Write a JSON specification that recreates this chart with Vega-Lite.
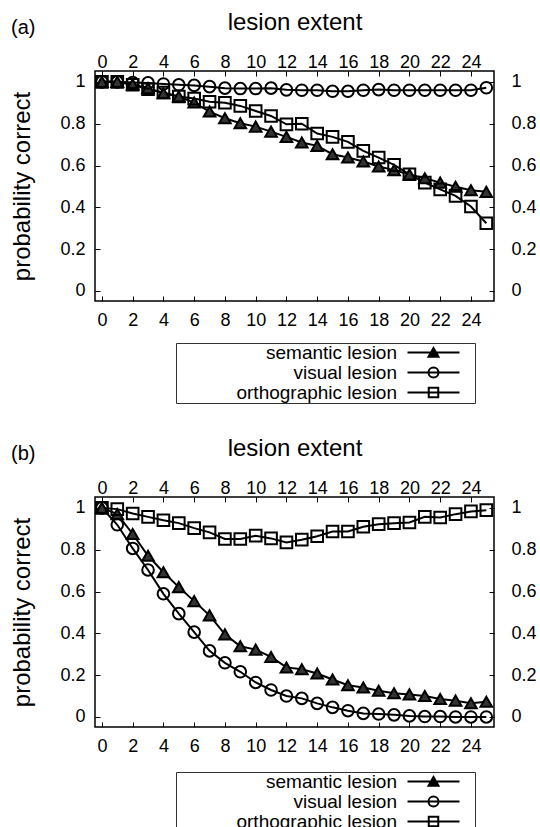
{
  "$schema": "https://vega.github.io/schema/vega-lite/v6.json",
  "padding": {"left": 10, "top": 9, "right": 0, "bottom": 0},
  "spacing": 30,
  "resolve": {"scale": {"shape": "independent", "fill": "independent"}, "legend": {"shape": "independent"}},
  "config": {
    "font": "Liberation Sans",
    "view": {"stroke": "#000", "strokeWidth": 1.5},
    "axis": {
      "labelFont": "Liberation Sans", "labelFontSize": 18, "labelColor": "#000",
      "titleFont": "Liberation Sans", "titleFontSize": 24, "titleFontWeight": "normal", "titleColor": "#000",
      "tickColor": "#000", "tickSize": -5, "tickWidth": 1, "domain": false, "grid": false
    },
    "legend": {
      "labelFont": "Liberation Sans", "labelFontSize": 19, "labelColor": "#000"
    }
  },
  "datasets": {
    "a": [
      {"x":0,"p":1.0,"series":"semantic lesion"},{"x":1,"p":1.0,"series":"semantic lesion"},{"x":2,"p":0.987,"series":"semantic lesion"},{"x":3,"p":0.97,"series":"semantic lesion"},{"x":4,"p":0.946,"series":"semantic lesion"},{"x":5,"p":0.93,"series":"semantic lesion"},{"x":6,"p":0.901,"series":"semantic lesion"},{"x":7,"p":0.858,"series":"semantic lesion"},{"x":8,"p":0.826,"series":"semantic lesion"},{"x":9,"p":0.802,"series":"semantic lesion"},{"x":10,"p":0.786,"series":"semantic lesion"},{"x":11,"p":0.762,"series":"semantic lesion"},{"x":12,"p":0.737,"series":"semantic lesion"},{"x":13,"p":0.71,"series":"semantic lesion"},{"x":14,"p":0.694,"series":"semantic lesion"},{"x":15,"p":0.654,"series":"semantic lesion"},{"x":16,"p":0.638,"series":"semantic lesion"},{"x":17,"p":0.619,"series":"semantic lesion"},{"x":18,"p":0.595,"series":"semantic lesion"},{"x":19,"p":0.578,"series":"semantic lesion"},{"x":20,"p":0.557,"series":"semantic lesion"},{"x":21,"p":0.539,"series":"semantic lesion"},{"x":22,"p":0.518,"series":"semantic lesion"},{"x":23,"p":0.498,"series":"semantic lesion"},{"x":24,"p":0.482,"series":"semantic lesion"},{"x":25,"p":0.474,"series":"semantic lesion"},
      {"x":0,"p":1.0,"series":"visual lesion"},{"x":1,"p":1.0,"series":"visual lesion"},{"x":2,"p":0.997,"series":"visual lesion"},{"x":3,"p":0.995,"series":"visual lesion"},{"x":4,"p":0.99,"series":"visual lesion"},{"x":5,"p":0.986,"series":"visual lesion"},{"x":6,"p":0.983,"series":"visual lesion"},{"x":7,"p":0.977,"series":"visual lesion"},{"x":8,"p":0.97,"series":"visual lesion"},{"x":9,"p":0.968,"series":"visual lesion"},{"x":10,"p":0.968,"series":"visual lesion"},{"x":11,"p":0.97,"series":"visual lesion"},{"x":12,"p":0.962,"series":"visual lesion"},{"x":13,"p":0.96,"series":"visual lesion"},{"x":14,"p":0.96,"series":"visual lesion"},{"x":15,"p":0.955,"series":"visual lesion"},{"x":16,"p":0.955,"series":"visual lesion"},{"x":17,"p":0.96,"series":"visual lesion"},{"x":18,"p":0.963,"series":"visual lesion"},{"x":19,"p":0.96,"series":"visual lesion"},{"x":20,"p":0.96,"series":"visual lesion"},{"x":21,"p":0.96,"series":"visual lesion"},{"x":22,"p":0.96,"series":"visual lesion"},{"x":23,"p":0.96,"series":"visual lesion"},{"x":24,"p":0.96,"series":"visual lesion"},{"x":25,"p":0.972,"series":"visual lesion"},
      {"x":0,"p":1.0,"series":"orthographic lesion"},{"x":1,"p":1.0,"series":"orthographic lesion"},{"x":2,"p":0.986,"series":"orthographic lesion"},{"x":3,"p":0.965,"series":"orthographic lesion"},{"x":4,"p":0.949,"series":"orthographic lesion"},{"x":5,"p":0.93,"series":"orthographic lesion"},{"x":6,"p":0.92,"series":"orthographic lesion"},{"x":7,"p":0.905,"series":"orthographic lesion"},{"x":8,"p":0.9,"series":"orthographic lesion"},{"x":9,"p":0.885,"series":"orthographic lesion"},{"x":10,"p":0.861,"series":"orthographic lesion"},{"x":11,"p":0.837,"series":"orthographic lesion"},{"x":12,"p":0.797,"series":"orthographic lesion"},{"x":13,"p":0.8,"series":"orthographic lesion"},{"x":14,"p":0.753,"series":"orthographic lesion"},{"x":15,"p":0.737,"series":"orthographic lesion"},{"x":16,"p":0.713,"series":"orthographic lesion"},{"x":17,"p":0.67,"series":"orthographic lesion"},{"x":18,"p":0.638,"series":"orthographic lesion"},{"x":19,"p":0.603,"series":"orthographic lesion"},{"x":20,"p":0.558,"series":"orthographic lesion"},{"x":21,"p":0.518,"series":"orthographic lesion"},{"x":22,"p":0.486,"series":"orthographic lesion"},{"x":23,"p":0.455,"series":"orthographic lesion"},{"x":24,"p":0.404,"series":"orthographic lesion"},{"x":25,"p":0.324,"series":"orthographic lesion"}
    ],
    "b": [
      {"x":0,"p":1.0,"series":"semantic lesion"},{"x":1,"p":0.97,"series":"semantic lesion"},{"x":2,"p":0.875,"series":"semantic lesion"},{"x":3,"p":0.771,"series":"semantic lesion"},{"x":4,"p":0.692,"series":"semantic lesion"},{"x":5,"p":0.621,"series":"semantic lesion"},{"x":6,"p":0.554,"series":"semantic lesion"},{"x":7,"p":0.486,"series":"semantic lesion"},{"x":8,"p":0.395,"series":"semantic lesion"},{"x":9,"p":0.338,"series":"semantic lesion"},{"x":10,"p":0.322,"series":"semantic lesion"},{"x":11,"p":0.287,"series":"semantic lesion"},{"x":12,"p":0.237,"series":"semantic lesion"},{"x":13,"p":0.228,"series":"semantic lesion"},{"x":14,"p":0.208,"series":"semantic lesion"},{"x":15,"p":0.179,"series":"semantic lesion"},{"x":16,"p":0.152,"series":"semantic lesion"},{"x":17,"p":0.141,"series":"semantic lesion"},{"x":18,"p":0.125,"series":"semantic lesion"},{"x":19,"p":0.113,"series":"semantic lesion"},{"x":20,"p":0.108,"series":"semantic lesion"},{"x":21,"p":0.1,"series":"semantic lesion"},{"x":22,"p":0.086,"series":"semantic lesion"},{"x":23,"p":0.078,"series":"semantic lesion"},{"x":24,"p":0.066,"series":"semantic lesion"},{"x":25,"p":0.073,"series":"semantic lesion"},
      {"x":0,"p":1.0,"series":"visual lesion"},{"x":1,"p":0.919,"series":"visual lesion"},{"x":2,"p":0.806,"series":"visual lesion"},{"x":3,"p":0.703,"series":"visual lesion"},{"x":4,"p":0.589,"series":"visual lesion"},{"x":5,"p":0.494,"series":"visual lesion"},{"x":6,"p":0.406,"series":"visual lesion"},{"x":7,"p":0.316,"series":"visual lesion"},{"x":8,"p":0.259,"series":"visual lesion"},{"x":9,"p":0.216,"series":"visual lesion"},{"x":10,"p":0.165,"series":"visual lesion"},{"x":11,"p":0.129,"series":"visual lesion"},{"x":12,"p":0.1,"series":"visual lesion"},{"x":13,"p":0.089,"series":"visual lesion"},{"x":14,"p":0.065,"series":"visual lesion"},{"x":15,"p":0.046,"series":"visual lesion"},{"x":16,"p":0.03,"series":"visual lesion"},{"x":17,"p":0.017,"series":"visual lesion"},{"x":18,"p":0.014,"series":"visual lesion"},{"x":19,"p":0.01,"series":"visual lesion"},{"x":20,"p":0.005,"series":"visual lesion"},{"x":21,"p":0.002,"series":"visual lesion"},{"x":22,"p":0.002,"series":"visual lesion"},{"x":23,"p":0.0,"series":"visual lesion"},{"x":24,"p":0.0,"series":"visual lesion"},{"x":25,"p":0.0,"series":"visual lesion"},
      {"x":0,"p":1.0,"series":"orthographic lesion"},{"x":1,"p":0.994,"series":"orthographic lesion"},{"x":2,"p":0.973,"series":"orthographic lesion"},{"x":3,"p":0.957,"series":"orthographic lesion"},{"x":4,"p":0.941,"series":"orthographic lesion"},{"x":5,"p":0.927,"series":"orthographic lesion"},{"x":6,"p":0.903,"series":"orthographic lesion"},{"x":7,"p":0.883,"series":"orthographic lesion"},{"x":8,"p":0.851,"series":"orthographic lesion"},{"x":9,"p":0.851,"series":"orthographic lesion"},{"x":10,"p":0.867,"series":"orthographic lesion"},{"x":11,"p":0.854,"series":"orthographic lesion"},{"x":12,"p":0.835,"series":"orthographic lesion"},{"x":13,"p":0.848,"series":"orthographic lesion"},{"x":14,"p":0.864,"series":"orthographic lesion"},{"x":15,"p":0.887,"series":"orthographic lesion"},{"x":16,"p":0.887,"series":"orthographic lesion"},{"x":17,"p":0.91,"series":"orthographic lesion"},{"x":18,"p":0.922,"series":"orthographic lesion"},{"x":19,"p":0.927,"series":"orthographic lesion"},{"x":20,"p":0.93,"series":"orthographic lesion"},{"x":21,"p":0.957,"series":"orthographic lesion"},{"x":22,"p":0.954,"series":"orthographic lesion"},{"x":23,"p":0.97,"series":"orthographic lesion"},{"x":24,"p":0.983,"series":"orthographic lesion"},{"x":25,"p":0.989,"series":"orthographic lesion"}
    ]
  },
  "vconcat": [
    {
      "title": {"text": "(a)", "anchor": "start", "frame": "bounds", "fontSize": 20, "fontWeight": "normal", "font": "Liberation Sans", "color": "#000", "offset": 0, "dy": 28},
      "width": 399, "height": 230,
      "data": {"name": "a"},
      "layer": [
        {
          "mark": {"type": "line", "stroke": "#000", "strokeWidth": 2},
          "encoding": {
            "x": {"field": "x", "type": "quantitative", "scale": {"domain": [-0.45, 25.5], "nice": false, "zero": false},
                  "axis": {"orient": "bottom", "title": null, "values": [0,2,4,6,8,10,12,14,16,18,20,22,24], "labelPadding": 15}},
            "y": {"field": "p", "type": "quantitative", "scale": {"domain": [-0.048, 1.052], "nice": false, "zero": false},
                  "axis": {"orient": "left", "title": "probability correct", "values": [0,0.2,0.4,0.6,0.8,1], "format": ".1~f", "labelPadding": 15, "titlePadding": 25}},
            "detail": {"field": "series"}
          }
        },
        {
          "mark": {"type": "point", "stroke": "#000", "strokeWidth": 2, "size": 135, "opacity": 1},
          "encoding": {
            "x": {"field": "x", "type": "quantitative",
                  "axis": {"orient": "top", "title": "lesion extent", "values": [0,2,4,6,8,10,12,14,16,18,20,22,24], "labelPadding": 5, "titlePadding": 19}},
            "y": {"field": "p", "type": "quantitative",
                  "axis": {"orient": "right", "title": null, "values": [0,0.2,0.4,0.6,0.8,1], "format": ".1~f", "labelPadding": 22}},
            "fill": {"field": "series", "type": "nominal", "scale": {"domain": ["semantic lesion", "visual lesion", "orthographic lesion"], "range": ["#333", "transparent", "transparent"]}, "legend": null},
            "shape": {"field": "series", "type": "nominal",
              "scale": {"domain": ["semantic lesion", "visual lesion", "orthographic lesion"], "range": ["triangle-up", "circle", "square"]}, "legend": null}
          }
        },
        {
          "transform": [{"filter": "false"}],
          "mark": {"type": "point", "stroke": "#000", "strokeWidth": 2, "filled": false},
          "encoding": {
            "x": {"field": "x", "type": "quantitative", "axis": null},
            "y": {"field": "p", "type": "quantitative", "axis": null},
            "shape": {"field": "series", "type": "nominal",
              "scale": {"domain": ["semantic lesion", "visual lesion", "orthographic lesion"],
                        "range": ["M7.5,0M-5.2,0L5.2,0M-1,0.85L0,-0.9L1,0.85ZM-0.6,0.6L0,-0.45L0.6,0.6ZM0,0.1L0,0.5", "M7.5,0M-5.2,0L5.2,0M1,0A1,1,0,1,1,-1,0A1,1,0,1,1,1,0Z", "M7.5,0M-5.2,0L5.2,0M-0.95,-0.95L0.95,-0.95L0.95,0.95L-0.95,0.95Z"]},
              "legend": {
                "title": null, "orient": "none", "legendX": 81, "legendY": 272, "direction": "vertical",
                "strokeColor": "#333", "padding": 0, "rowPadding": 0,
                "labelAlign": "right", "labelBaseline": "middle", "labelLimit": 400, "labelOffset": -46, "symbolOffset": 248,
                "symbolSize": 100, "symbolStrokeWidth": 2, "symbolStrokeColor": "#000", "symbolOpacity": 1
              }}
          }
        }
      ],
      "resolve": {"axis": {"x": "independent", "y": "independent"}, "scale": {"shape": "independent"}}
    },
    {
      "title": {"text": "(b)", "anchor": "start", "frame": "bounds", "fontSize": 20, "fontWeight": "normal", "font": "Liberation Sans", "color": "#000", "offset": 0, "dy": 28},
      "width": 399, "height": 230,
      "data": {"name": "b"},
      "layer": [
        {
          "mark": {"type": "line", "stroke": "#000", "strokeWidth": 2},
          "encoding": {
            "x": {"field": "x", "type": "quantitative", "scale": {"domain": [-0.45, 25.5], "nice": false, "zero": false},
                  "axis": {"orient": "bottom", "title": null, "values": [0,2,4,6,8,10,12,14,16,18,20,22,24], "labelPadding": 15}},
            "y": {"field": "p", "type": "quantitative", "scale": {"domain": [-0.048, 1.052], "nice": false, "zero": false},
                  "axis": {"orient": "left", "title": "probability correct", "values": [0,0.2,0.4,0.6,0.8,1], "format": ".1~f", "labelPadding": 15, "titlePadding": 25}},
            "detail": {"field": "series"}
          }
        },
        {
          "mark": {"type": "point", "stroke": "#000", "strokeWidth": 2, "size": 135, "opacity": 1},
          "encoding": {
            "x": {"field": "x", "type": "quantitative",
                  "axis": {"orient": "top", "title": "lesion extent", "values": [0,2,4,6,8,10,12,14,16,18,20,22,24], "labelPadding": 5, "titlePadding": 19}},
            "y": {"field": "p", "type": "quantitative",
                  "axis": {"orient": "right", "title": null, "values": [0,0.2,0.4,0.6,0.8,1], "format": ".1~f", "labelPadding": 22}},
            "fill": {"field": "series", "type": "nominal", "scale": {"domain": ["semantic lesion", "visual lesion", "orthographic lesion"], "range": ["#333", "transparent", "transparent"]}, "legend": null},
            "shape": {"field": "series", "type": "nominal",
              "scale": {"domain": ["semantic lesion", "visual lesion", "orthographic lesion"], "range": ["triangle-up", "circle", "square"]}, "legend": null}
          }
        },
        {
          "transform": [{"filter": "false"}],
          "mark": {"type": "point", "stroke": "#000", "strokeWidth": 2, "filled": false},
          "encoding": {
            "x": {"field": "x", "type": "quantitative", "axis": null},
            "y": {"field": "p", "type": "quantitative", "axis": null},
            "shape": {"field": "series", "type": "nominal",
              "scale": {"domain": ["semantic lesion", "visual lesion", "orthographic lesion"],
                        "range": ["M7.5,0M-5.2,0L5.2,0M-1,0.85L0,-0.9L1,0.85ZM-0.6,0.6L0,-0.45L0.6,0.6ZM0,0.1L0,0.5", "M7.5,0M-5.2,0L5.2,0M1,0A1,1,0,1,1,-1,0A1,1,0,1,1,1,0Z", "M7.5,0M-5.2,0L5.2,0M-0.95,-0.95L0.95,-0.95L0.95,0.95L-0.95,0.95Z"]},
              "legend": {
                "title": null, "orient": "none", "legendX": 81, "legendY": 275, "direction": "vertical",
                "strokeColor": "#333", "padding": 0, "rowPadding": 0,
                "labelAlign": "right", "labelBaseline": "middle", "labelLimit": 400, "labelOffset": -46, "symbolOffset": 248,
                "symbolSize": 100, "symbolStrokeWidth": 2, "symbolStrokeColor": "#000", "symbolOpacity": 1
              }}
          }
        }
      ],
      "resolve": {"axis": {"x": "independent", "y": "independent"}, "scale": {"shape": "independent"}}
    }
  ]
}
